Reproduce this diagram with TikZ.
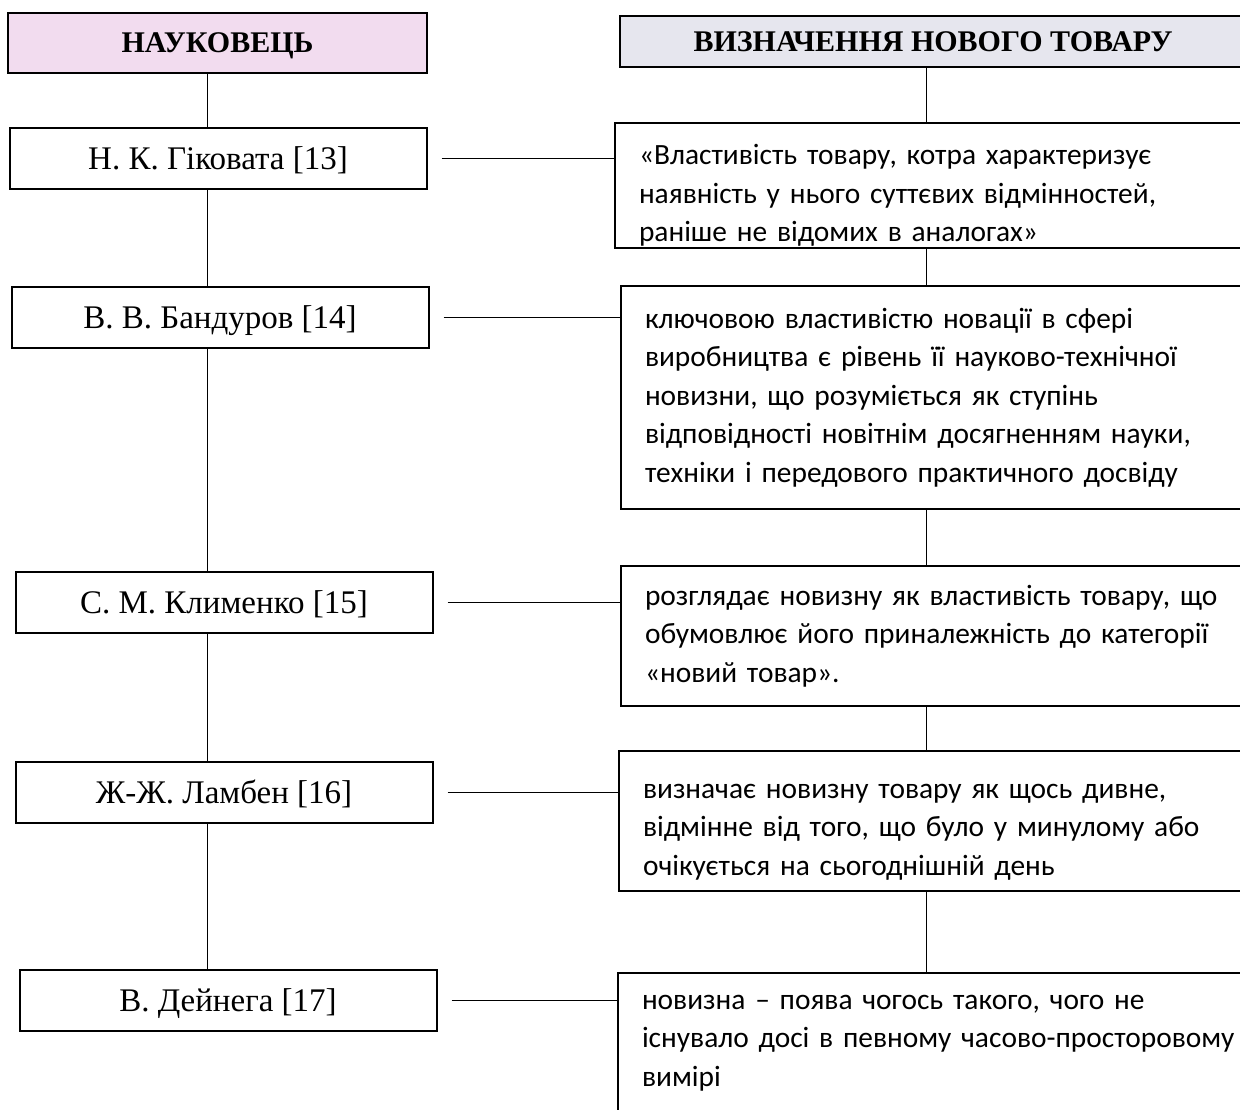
\documentclass[tikz,border=0pt]{standalone}
\usepackage{fontspec}
\setmainfont{Liberation Serif}
\newfontfamily\calib{Carlito}
\usetikzlibrary{positioning,calc}
\definecolor{pinkhead}{HTML}{F2DCEF}
\definecolor{greyhead}{HTML}{E6E6EE}

\begin{document}
\begin{tikzpicture}[x=0.5pt,y=-0.5pt,
  head/.style={draw,line width=1pt,inner sep=0pt,text depth=0pt,font=\fontsize{15}{18}\selectfont\bfseries},
  who/.style={draw,line width=1pt,minimum width=208.5pt,minimum height=30.5pt,inner sep=0pt,
    text depth=0pt,font=\fontsize{16.5}{20}\selectfont},
  what/.style={draw,line width=1pt,anchor=north west,text width=300pt,align=left,
    inner xsep=12pt,inner ysep=0pt,font=\calib\fontsize{14.7}{19.3}\selectfont},
  link/.style={line width=0.5pt}]
  \useasboundingbox (0,0) rectangle (1240,1109);
  \clip (0,0) rectangle (1240,1109);

  % headers
  \node[head,fill=pinkhead,minimum width=209.5pt,minimum height=30pt] (hdrL) at (217.5,43) {НАУКОВЕЦЬ};
  \node[head,fill=greyhead,anchor=north west,minimum width=313pt,minimum height=25.5pt] (hdrR) at (619,15) {ВИЗНАЧЕННЯ НОВОГО ТОВАРУ};

  % scientists
  \node[who] (gik) at (218,158) {Н. К. Гіковата [13]};
  \node[who] (band) at (220,317) {В. В. Бандуров [14]};
  \node[who] (klym) at (224,602) {С. М. Клименко [15]};
  \node[who] (lamb) at (224,792) {Ж-Ж. Ламбен [16]};
  \node[who] (dein) at (228,1000) {В. Дейнега [17]};

  % definitions
  \node[what,minimum height=62.5pt] (def1) at (614,122) {\rule{0pt}{20pt}«Властивість товару, котра характеризує\\
    наявність у нього суттєвих відмінностей,\\ раніше не відомих в аналогах»};
  \node[what,minimum height=111.5pt] (def2) at (620,285) {ключовою властивістю новації в сфері\\
    виробництва є рівень її науково-технічної\\ новизни, що розуміється як ступінь\\
    відповідності новітнім досягненням науки,\\ техніки і передового практичного досвіду};
  \node[what,minimum height=70pt] (def3) at (620,565) {розглядає новизну як властивість товару, що\\
    обумовлює його приналежність до категорії\\ «новий товар».};
  \node[what,minimum height=70pt] (def4) at (618,750) {\rule{0pt}{18pt}визначає новизну товару як щось дивне,\\
    відмінне від того, що було у минулому або\\ очікується на сьогоднішній день};
  \node[what,minimum height=70pt] (def5) at (617,972) {новизна – поява чогось такого, чого не\\
    існувало досі в певному часово-просторовому\\ вимірі};

  \coordinate (lsp) at (207,0);
  \coordinate (rsp) at (926,0);

  % vertical links
  \draw[link] (hdrL.south -| lsp) -- (gik.north -| lsp);
  \draw[link] (gik.south -| lsp) -- (band.north -| lsp);
  \draw[link] (band.south -| lsp) -- (klym.north -| lsp);
  \draw[link] (klym.south -| lsp) -- (lamb.north -| lsp);
  \draw[link] (lamb.south -| lsp) -- (dein.north -| lsp);
  \draw[link] (hdrR.south -| rsp) -- (def1.north -| rsp);
  \draw[link] (def1.south -| rsp) -- (def2.north -| rsp);
  \draw[link] (def2.south -| rsp) -- (def3.north -| rsp);
  \draw[link] (def3.south -| rsp) -- (def4.north -| rsp);
  \draw[link] (def4.south -| rsp) -- (def5.north -| rsp);

  % horizontal links
  \foreach \a/\b in {gik/def1,band/def2,klym/def3,lamb/def4,dein/def5}
    \draw[link,shorten <=7pt] (\a.east) -- (\a.east -| \b.west);
\end{tikzpicture}
\end{document}
